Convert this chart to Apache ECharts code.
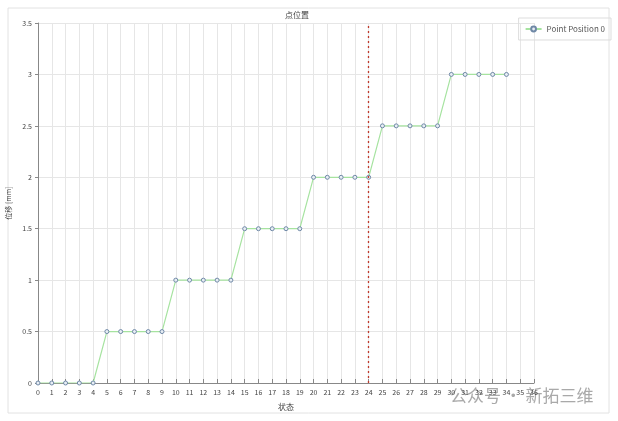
<!DOCTYPE html>
<html>
<head>
<meta charset="utf-8">
<script src="https://cdn.jsdelivr.net/npm/echarts@6/dist/echarts.min.js"></script>
<style>
  html, body { margin: 0; padding: 0; background: #fff; }
  #chart { width: 618px; height: 421px; }
</style>
</head>
<body>
<div id="chart"></div>
<script>
// 状态 (x) 与 位移 (y)
var states = [0, 1, 2, 3, 4, 5, 6, 7, 8, 9, 10, 11, 12, 13, 14, 15, 16, 17,
              18, 19, 20, 21, 22, 23, 24, 25, 26, 27, 28, 29, 30, 31, 32, 33, 34];
var positions = [0, 0, 0, 0, 0, 0.5, 0.5, 0.5, 0.5, 0.5, 1, 1, 1, 1, 1,
                 1.5, 1.5, 1.5, 1.5, 1.5, 2, 2, 2, 2, 2, 2.5, 2.5, 2.5, 2.5, 2.5,
                 3, 3, 3, 3, 3];
var markState = 24;

var chart = echarts.init(document.getElementById('chart'));
var font = '"Noto Sans CJK SC", "DejaVu Sans", sans-serif';

chart.setOption({
    animation: false,
    textStyle: { fontFamily: font },
    title: {
        text: '点位置',
        left: 292,
        top: 6,
        textAlign: 'center',
        textStyle: { fontSize: 8, fontWeight: 'normal', color: '#444' }
    },
    legend: {
        right: 7,
        top: 18,
        padding: [7, 6, 7, 6],
        borderColor: '#ddd',
        borderWidth: 1,
        itemWidth: 16,
        itemHeight: 6,
        textStyle: { fontSize: 8, color: '#555' },
        data: ['Point Position 0']
    },
    grid: { left: 38, right: 84, top: 23, bottom: 38, outerBoundsMode: 'none' },
    xAxis: {
        type: 'value',
        min: 0,
        max: 36,
        interval: 1,
        name: '状态',
        nameLocation: 'middle',
        nameGap: 20,
        nameTextStyle: { fontSize: 8, color: '#444' },
        axisLine: { lineStyle: { color: '#888' } },
        axisTick: { inside: true, length: 4, lineStyle: { color: '#888' } },
        axisLabel: { fontSize: 7, color: '#444', margin: 6 },
        splitLine: { show: true, lineStyle: { color: '#e6e6e6' } }
    },
    yAxis: {
        type: 'value',
        min: 0,
        max: 3.5,
        interval: 0.5,
        name: '位移 [mm]',
        nameLocation: 'middle',
        nameGap: 21,
        nameTextStyle: { fontSize: 7, color: '#444' },
        axisLine: { show: true, lineStyle: { color: '#888' } },
        axisTick: { show: true, length: 3, lineStyle: { color: '#888' } },
        axisLabel: { fontSize: 7, color: '#444', margin: 6 },
        splitLine: { show: true, lineStyle: { color: '#e6e6e6' } }
    },
    series: [{
        name: 'Point Position 0',
        type: 'line',
        data: states.map(function (s, i) { return [s, positions[i]]; }),
        symbol: 'circle',
        symbolSize: 4,
        lineStyle: { color: '#a6e3a0', width: 1.2 },
        itemStyle: { color: '#e8eef5', borderColor: '#6f88a6', borderWidth: 1 },
        markLine: {
            silent: true,
            symbol: 'none',
            label: { show: false },
            lineStyle: { color: '#c0392b', type: [2, 3], width: 1.3 },
            data: [{ xAxis: markState }]
        }
    }],
    graphic: [{
        type: 'rect',
        silent: true,
        shape: { x: 8, y: 8, width: 601, height: 405 },
        style: { fill: 'none', stroke: '#e2e2e2', lineWidth: 1 }
    }, {
        type: 'text',
        silent: true,
        left: 450,
        top: 387,
        style: {
            text: '公众号 · 新拓三维',
            font: '17px "Noto Sans CJK SC"',
            fill: 'rgba(140,140,140,0.75)'
        }
    }]
});
</script>
</body>
</html>
